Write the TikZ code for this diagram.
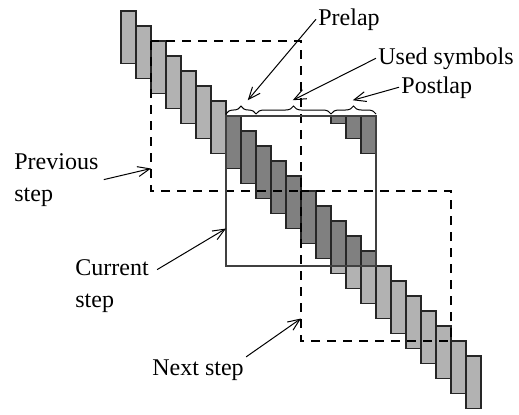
\documentclass[tikz,border=0pt]{standalone}
\usepackage{fontspec}
\setmainfont{Liberation Serif}
\usetikzlibrary{arrows.meta, decorations.pathreplacing}

\begin{document}
\begin{tikzpicture}[
    x=0.5pt, y=-0.5pt,
    txt/.style={font=\fontsize{12}{16}\selectfont, align=left, inner sep=1pt},
    arrow/.style={-{Straight Barb[length=6pt,width=5pt]}, line width=0.5pt},
    lightbar/.style={draw=black!85, fill=black!30, line width=0.8pt},
    darkbar/.style={draw=black!85, fill=black!50, line width=0.8pt},
    stepline/.style={dash pattern=on 4.5pt off 3.5pt, line width=0.6pt},
    curbox/.style={draw=black!75, line width=0.7pt},
    brc/.style={decorate, decoration={brace, amplitude=4pt, raise=1pt}, line width=0.5pt}
]
\useasboundingbox (0,0) rectangle (519,414);

% one bar per symbol, 15px per column
\begin{scope}[shift={(226,116)}, x=7.5pt, y=-7.5pt]
\foreach \i in {-7,...,-1}
  \draw[lightbar] (\i,\i) rectangle (\i+1,\i+3.5);
\foreach \i in {10,...,16}
  \draw[lightbar] (\i,\i) rectangle (\i+1,\i+3.5);
\foreach \i in {0,...,6}
  \draw[darkbar] (\i,\i) rectangle (\i+1,\i+3.5);
\foreach \i in {7,8,9} {
  \draw[lightbar] (\i,10) rectangle (\i+1,\i+3.5);
  \draw[darkbar] (\i,\i) rectangle (\i+1,10);
  \draw[darkbar] (\i,0) rectangle (\i+1,\i-6.5);
}

% steps
\draw[stepline] (-5,-5) rectangle (5,5);
\draw[stepline] (5,5) rectangle (15,15);
\draw[curbox] (0,0) rectangle (10,10);

% braces over the current step
\draw[brc] (0,0) -- (2,0);
\draw[brc] (2,0) -- (7,0);
\draw[brc] (7,0) -- (10,0);

\coordinate (prelaptip) at (1.45,-1.05);
\coordinate (usedtip) at (4.45,-1.05);
\coordinate (postlaptip) at (8.45,-1.05);
\coordinate (prevedge) at (-5,3.5);
\coordinate (curedge) at (0,7.5);
\coordinate (nextedge) at (5,13.5);
\end{scope}

\node[txt, anchor=base west] (prelap) at (316,25) {Prelap};
\node[txt, anchor=base west] (used) at (376,64) {Used symbols};
\node[txt, anchor=base west] (postlap) at (399,93) {Postlap};
\node[txt, anchor=base west] (prev) at (12,201) {Previous\\step};
\node[txt, anchor=base west] (cur) at (73,307) {Current\\step};
\node[txt, anchor=base west] (next) at (150,375) {Next step};

\draw[arrow] (prelap.west) -- (prelaptip);
\draw[arrow] (used.west) -- (usedtip);
\draw[arrow] (postlap.west) -- (postlaptip);
\draw[arrow] ([xshift=1.5pt]prev.east) -- (prevedge);
\draw[arrow] ([xshift=3pt,yshift=8pt]cur.east) -- (curedge);
\draw[arrow] (next.north east) -- (nextedge);
\end{tikzpicture}
\end{document}
